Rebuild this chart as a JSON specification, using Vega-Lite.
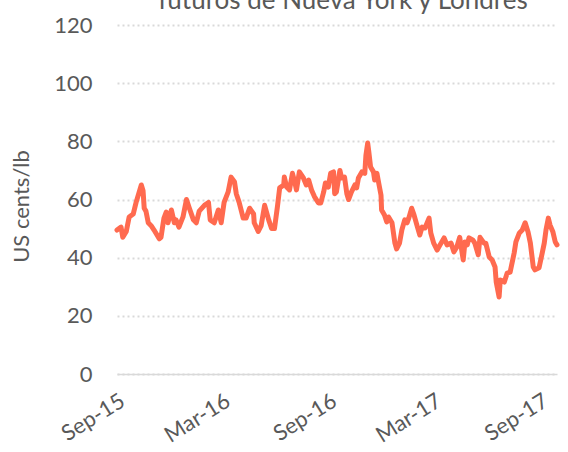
{
  "$schema": "https://vega.github.io/schema/vega-lite/v6.json",
  "width": 440,
  "height": 349,
  "autosize": {"type": "none"},
  "padding": {"left": 117, "top": 25, "right": 11, "bottom": 78},
  "background": "white",
  "title": {
    "text": "futuros de Nueva York y Londres",
    "font": "Lato",
    "fontSize": 26,
    "fontWeight": "normal",
    "color": "#595959",
    "baseline": "alphabetic",
    "anchor": "middle",
    "offset": -21,
    "dx": 6
  },
  "config": {
    "view": {"stroke": null},
    "font": "Lato"
  },
  "data": {
    "values": [
      {"date": "2015-09-01", "price": 49.5},
      {"date": "2015-09-08", "price": 50.5},
      {"date": "2015-09-11", "price": 47},
      {"date": "2015-09-17", "price": 49},
      {"date": "2015-09-22", "price": 54},
      {"date": "2015-09-29", "price": 55},
      {"date": "2015-10-04", "price": 59},
      {"date": "2015-10-13", "price": 65},
      {"date": "2015-10-16", "price": 63},
      {"date": "2015-10-18", "price": 57},
      {"date": "2015-10-21", "price": 56},
      {"date": "2015-10-25", "price": 52},
      {"date": "2015-10-30", "price": 51},
      {"date": "2015-11-04", "price": 49.5},
      {"date": "2015-11-13", "price": 46.5},
      {"date": "2015-11-16", "price": 47},
      {"date": "2015-11-21", "price": 53.5},
      {"date": "2015-11-25", "price": 55.7},
      {"date": "2015-11-28", "price": 52},
      {"date": "2015-12-04", "price": 56.4},
      {"date": "2015-12-09", "price": 52},
      {"date": "2015-12-12", "price": 53},
      {"date": "2015-12-17", "price": 50.5},
      {"date": "2015-12-24", "price": 54},
      {"date": "2015-12-30", "price": 60},
      {"date": "2016-01-04", "price": 57},
      {"date": "2016-01-11", "price": 53},
      {"date": "2016-01-16", "price": 52},
      {"date": "2016-01-21", "price": 56},
      {"date": "2016-01-30", "price": 58},
      {"date": "2016-02-06", "price": 59},
      {"date": "2016-02-09", "price": 53},
      {"date": "2016-02-16", "price": 52},
      {"date": "2016-02-23", "price": 56.4},
      {"date": "2016-02-28", "price": 52},
      {"date": "2016-03-04", "price": 59},
      {"date": "2016-03-11", "price": 62.6},
      {"date": "2016-03-16", "price": 67.7},
      {"date": "2016-03-22", "price": 66},
      {"date": "2016-03-25", "price": 62},
      {"date": "2016-03-30", "price": 59},
      {"date": "2016-04-06", "price": 53.6},
      {"date": "2016-04-11", "price": 53.6},
      {"date": "2016-04-17", "price": 57},
      {"date": "2016-04-24", "price": 55},
      {"date": "2016-04-25", "price": 52},
      {"date": "2016-05-02", "price": 49},
      {"date": "2016-05-07", "price": 51},
      {"date": "2016-05-13", "price": 58},
      {"date": "2016-05-20", "price": 53},
      {"date": "2016-05-25", "price": 50},
      {"date": "2016-05-30", "price": 50},
      {"date": "2016-06-04", "price": 57.4},
      {"date": "2016-06-08", "price": 64},
      {"date": "2016-06-15", "price": 65},
      {"date": "2016-06-16", "price": 67.7},
      {"date": "2016-06-20", "price": 64.3},
      {"date": "2016-06-25", "price": 63.3},
      {"date": "2016-06-30", "price": 69},
      {"date": "2016-07-04", "price": 66},
      {"date": "2016-07-07", "price": 63.3},
      {"date": "2016-07-12", "price": 69.5},
      {"date": "2016-07-19", "price": 67.4},
      {"date": "2016-07-24", "price": 65},
      {"date": "2016-07-28", "price": 66.7},
      {"date": "2016-08-02", "price": 63.3},
      {"date": "2016-08-07", "price": 61},
      {"date": "2016-08-14", "price": 58.8},
      {"date": "2016-08-18", "price": 58.8},
      {"date": "2016-08-23", "price": 62.6},
      {"date": "2016-08-26", "price": 65.7},
      {"date": "2016-08-31", "price": 64.3},
      {"date": "2016-09-04", "price": 69},
      {"date": "2016-09-09", "price": 69.5},
      {"date": "2016-09-11", "price": 62},
      {"date": "2016-09-14", "price": 62.6},
      {"date": "2016-09-20", "price": 70},
      {"date": "2016-09-23", "price": 67.4},
      {"date": "2016-09-28", "price": 67.7},
      {"date": "2016-10-02", "price": 62},
      {"date": "2016-10-05", "price": 60},
      {"date": "2016-10-10", "price": 62.6},
      {"date": "2016-10-16", "price": 65},
      {"date": "2016-10-19", "price": 64},
      {"date": "2016-10-22", "price": 67.4},
      {"date": "2016-10-28", "price": 69.5},
      {"date": "2016-11-02", "price": 69},
      {"date": "2016-11-04", "price": 75.3},
      {"date": "2016-11-07", "price": 79.4},
      {"date": "2016-11-09", "price": 76.3},
      {"date": "2016-11-12", "price": 71.2},
      {"date": "2016-11-17", "price": 69.5},
      {"date": "2016-11-19", "price": 66.7},
      {"date": "2016-11-23", "price": 69},
      {"date": "2016-11-26", "price": 65.7},
      {"date": "2016-11-30", "price": 61.5},
      {"date": "2016-12-01", "price": 56.4},
      {"date": "2016-12-06", "price": 54.7},
      {"date": "2016-12-10", "price": 52.3},
      {"date": "2016-12-13", "price": 54},
      {"date": "2016-12-19", "price": 52},
      {"date": "2016-12-24", "price": 45},
      {"date": "2016-12-27", "price": 43},
      {"date": "2017-01-01", "price": 45},
      {"date": "2017-01-05", "price": 49.5},
      {"date": "2017-01-10", "price": 53},
      {"date": "2017-01-14", "price": 52},
      {"date": "2017-01-17", "price": 53.6},
      {"date": "2017-01-22", "price": 57},
      {"date": "2017-01-26", "price": 54.7},
      {"date": "2017-01-31", "price": 51.2},
      {"date": "2017-02-05", "price": 47.8},
      {"date": "2017-02-09", "price": 50.5},
      {"date": "2017-02-14", "price": 50.2},
      {"date": "2017-02-21", "price": 53.6},
      {"date": "2017-02-24", "price": 48.5},
      {"date": "2017-03-01", "price": 45},
      {"date": "2017-03-07", "price": 42.6},
      {"date": "2017-03-12", "price": 44.4},
      {"date": "2017-03-19", "price": 46.8},
      {"date": "2017-03-24", "price": 44.4},
      {"date": "2017-03-31", "price": 45},
      {"date": "2017-04-05", "price": 42},
      {"date": "2017-04-10", "price": 43.7},
      {"date": "2017-04-15", "price": 47},
      {"date": "2017-04-21", "price": 39.2},
      {"date": "2017-04-24", "price": 45.4},
      {"date": "2017-04-28", "price": 44.4},
      {"date": "2017-05-01", "price": 46.8},
      {"date": "2017-05-08", "price": 46},
      {"date": "2017-05-11", "price": 45},
      {"date": "2017-05-17", "price": 41},
      {"date": "2017-05-20", "price": 47},
      {"date": "2017-05-27", "price": 45},
      {"date": "2017-05-30", "price": 45},
      {"date": "2017-06-05", "price": 40.2},
      {"date": "2017-06-10", "price": 39.2},
      {"date": "2017-06-15", "price": 36.8},
      {"date": "2017-06-17", "price": 31.6},
      {"date": "2017-06-22", "price": 26.5},
      {"date": "2017-06-24", "price": 32.3},
      {"date": "2017-07-01", "price": 31.6},
      {"date": "2017-07-06", "price": 34.7},
      {"date": "2017-07-11", "price": 35},
      {"date": "2017-07-18", "price": 41.6},
      {"date": "2017-07-21", "price": 45.4},
      {"date": "2017-07-27", "price": 48.5},
      {"date": "2017-08-01", "price": 49.5},
      {"date": "2017-08-06", "price": 52},
      {"date": "2017-08-11", "price": 48.8},
      {"date": "2017-08-15", "price": 45},
      {"date": "2017-08-20", "price": 36.8},
      {"date": "2017-08-23", "price": 35.8},
      {"date": "2017-08-30", "price": 36.5},
      {"date": "2017-09-03", "price": 40.2},
      {"date": "2017-09-08", "price": 45},
      {"date": "2017-09-11", "price": 49.5},
      {"date": "2017-09-15", "price": 53.6},
      {"date": "2017-09-18", "price": 51.2},
      {"date": "2017-09-23", "price": 48.8},
      {"date": "2017-09-27", "price": 45.4},
      {"date": "2017-09-30", "price": 44.4}
    ],
    "format": {"parse": {"date": "date:'%Y-%m-%d'"}}
  },
  "mark": {"type": "line", "color": "#FF6A4F", "strokeWidth": 5, "strokeJoin": "round", "strokeCap": "round"},
  "encoding": {
    "x": {
      "field": "date",
      "type": "temporal",
      "scale": {"domain": [{"year": 2015, "month": 9, "date": 1}, {"year": 2017, "month": 9, "date": 30}]},
      "axis": {
        "title": null,
        "values": [
          {"year": 2015, "month": 9, "date": 1},
          {"year": 2016, "month": 3, "date": 1},
          {"year": 2016, "month": 9, "date": 1},
          {"year": 2017, "month": 3, "date": 1},
          {"year": 2017, "month": 9, "date": 1}
        ],
        "format": "%b-%y",
        "labelAngle": -32,
        "labelFontSize": 22,
        "labelColor": "#595959",
        "labelPadding": 16,
        "ticks": false,
        "grid": false,
        "domainColor": "#D9D9D9",
        "domainWidth": 1.5
      }
    },
    "y": {
      "field": "price",
      "type": "quantitative",
      "scale": {"domain": [0, 120]},
      "axis": {
        "title": "US cents/lb",
        "values": [0, 20, 40, 60, 80, 100, 120],
        "domain": false,
        "ticks": false,
        "labelFontSize": 22,
        "labelColor": "#595959",
        "labelPadding": 25,
        "titleFontSize": 22,
        "titleFontWeight": "normal",
        "titleColor": "#595959",
        "titlePadding": 20,
        "titleY": 181,
        "gridColor": "#D9D9D9",
        "gridDash": [2, 3],
        "gridWidth": 2
      }
    }
  }
}
